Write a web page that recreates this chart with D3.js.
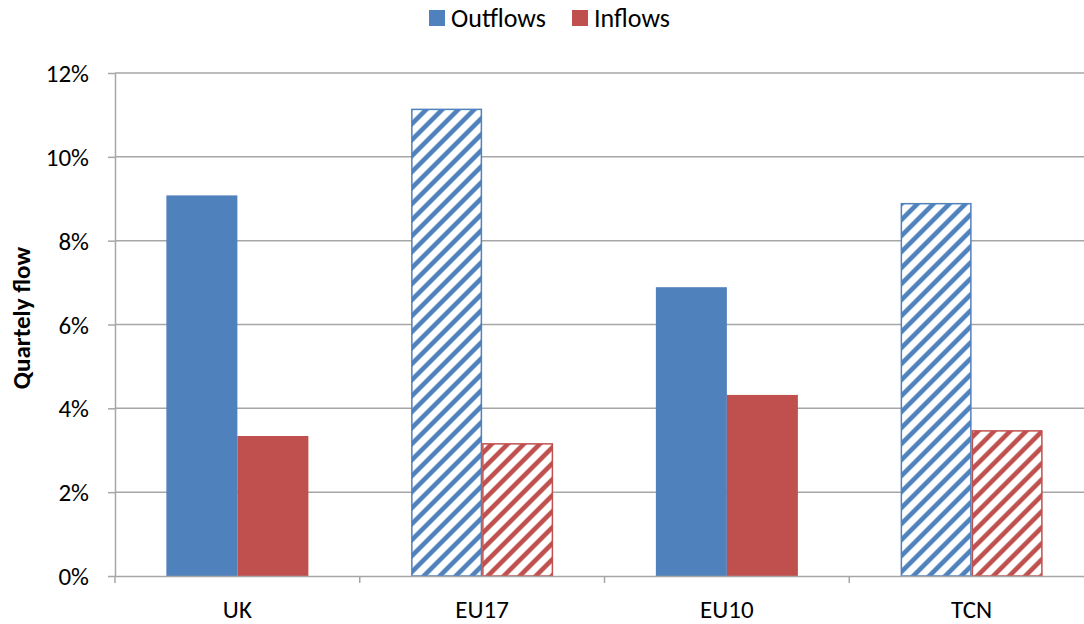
<!DOCTYPE html>
<html>
<head>
<meta charset="utf-8">
<script src="https://cdn.jsdelivr.net/npm/d3@7"></script>
<style>
  html, body { margin: 0; padding: 0; background: #fff; }
  svg { display: block; font-family: Carlito, Lato, "Open Sans", sans-serif; }
</style>
</head>
<body>
<svg id="chart" width="1084" height="624"></svg>
<script>
// Quarterly flows by group
const categories = ["UK", "EU17", "EU10", "TCN"];
const seriesNames = ["Outflows", "Inflows"];
const outflows = [9.08, 11.15, 6.89, 8.90];
const inflows = [3.34, 3.17, 4.32, 3.48];
const hatched = [false, true, false, true];
const yTicks = [0, 2, 4, 6, 8, 10, 12];

const colors = { Outflows: "#4f81bd", Inflows: "#c0504d" };
const FONT = "Carlito, Lato, 'Open Sans', sans-serif";

const svg = d3.select("#chart");
const W = 1084, H = 624;
const margin = { top: 73, left: 115, bottom: 48 };
const plotW = 979; // category band extends past the right edge of the view
const y0 = H - margin.bottom;

const x = d3.scaleBand().domain(categories).range([margin.left, margin.left + plotW]).paddingInner(0).paddingOuter(0);
const xs = d3.scaleBand().domain(seriesNames).range([0, x.bandwidth()]).paddingInner(0).paddingOuter(0.7233);
const y = d3.scaleLinear().domain([0, 12]).range([y0, margin.top]);

// Hatch patterns for each series
const defs = svg.append("defs");
seriesNames.forEach(s => {
  const p = defs.append("pattern")
    .attr("id", "hatch-" + s)
    .attr("patternUnits", "userSpaceOnUse")
    .attr("width", 16).attr("height", 16);
  p.append("rect").attr("width", 16).attr("height", 16).attr("fill", "#fff");
  p.append("path")
    .attr("d", "M-4,4 L4,-4 M0,16 L16,0 M12,20 L20,12")
    .attr("stroke", colors[s]).attr("stroke-width", 4.6).attr("stroke-linecap", "square");
});

// Gridlines
svg.append("g").selectAll("line").data(yTicks.filter(t => t > 0)).join("line")
  .attr("x1", margin.left).attr("x2", margin.left + plotW)
  .attr("y1", d => y(d)).attr("y2", d => y(d))
  .attr("stroke", "#a6a6a6").attr("stroke-width", 1.5);

// Bars
const rows = categories.map((c, i) => ({ c, i, Outflows: outflows[i], Inflows: inflows[i] }));
const groups = svg.append("g").selectAll("g").data(rows).join("g")
  .attr("transform", d => `translate(${x(d.c)},0)`);
groups.selectAll("rect").data(d => seriesNames.map(s => ({ s, v: d[s], h: hatched[d.i] }))).join("rect")
  .attr("x", d => xs(d.s) + (d.h ? 0.75 : 0))
  .attr("width", d => xs.bandwidth() - (d.h ? 1.5 : 0))
  .attr("y", d => y(d.v) + (d.h ? 0.75 : 0))
  .attr("height", d => y0 - y(d.v) - (d.h ? 0.75 : 0))
  .attr("fill", d => d.h ? `url(#hatch-${d.s})` : colors[d.s])
  .attr("stroke", d => d.h ? colors[d.s] : "none")
  .attr("stroke-width", 1.5);

// Y axis
const yAxis = svg.append("g").attr("transform", `translate(${margin.left},0)`)
  .call(d3.axisLeft(y).tickValues(yTicks).tickFormat(d => d + "%").tickSize(7).tickSizeOuter(0))
  .attr("font-family", FONT).attr("font-size", 25);
yAxis.select(".domain").attr("stroke", "#a6a6a6").attr("stroke-width", 1.5);
yAxis.selectAll(".tick line").attr("stroke", "#a6a6a6").attr("stroke-width", 1.5);
yAxis.selectAll(".tick text").attr("fill", "#000").attr("x", -26).attr("dy", "0.34em");

// X axis
const xAxis = svg.append("g").attr("transform", `translate(0,${y0})`)
  .call(d3.axisBottom(x).tickSize(0).tickSizeOuter(0))
  .attr("font-family", FONT).attr("font-size", 25);
xAxis.select(".domain").attr("stroke", "#a6a6a6").attr("stroke-width", 1.5);
xAxis.selectAll(".tick text").attr("fill", "#000").attr("y", 42).attr("dy", null);
// Category boundary ticks
xAxis.append("g").selectAll("line").data(d3.range(categories.length + 1)).join("line")
  .attr("x1", i => margin.left + i * x.step()).attr("x2", i => margin.left + i * x.step())
  .attr("y1", 0).attr("y2", 7)
  .attr("stroke", "#a6a6a6").attr("stroke-width", 1.5);

// Y axis title
svg.append("text")
  .attr("transform", `translate(30,318) rotate(-90)`)
  .attr("text-anchor", "middle")
  .attr("font-size", 25).attr("font-weight", "bold")
  .text("Quartely flow");

// Legend
const legend = svg.append("g");
const legendX = [429, 572];
seriesNames.forEach((s, i) => {
  legend.append("rect").attr("x", legendX[i]).attr("y", 10).attr("width", 16).attr("height", 16).attr("fill", colors[s]);
  legend.append("text").attr("x", legendX[i] + 22).attr("y", 27).attr("font-size", 26).text(s);
});
</script>
</body>
</html>
